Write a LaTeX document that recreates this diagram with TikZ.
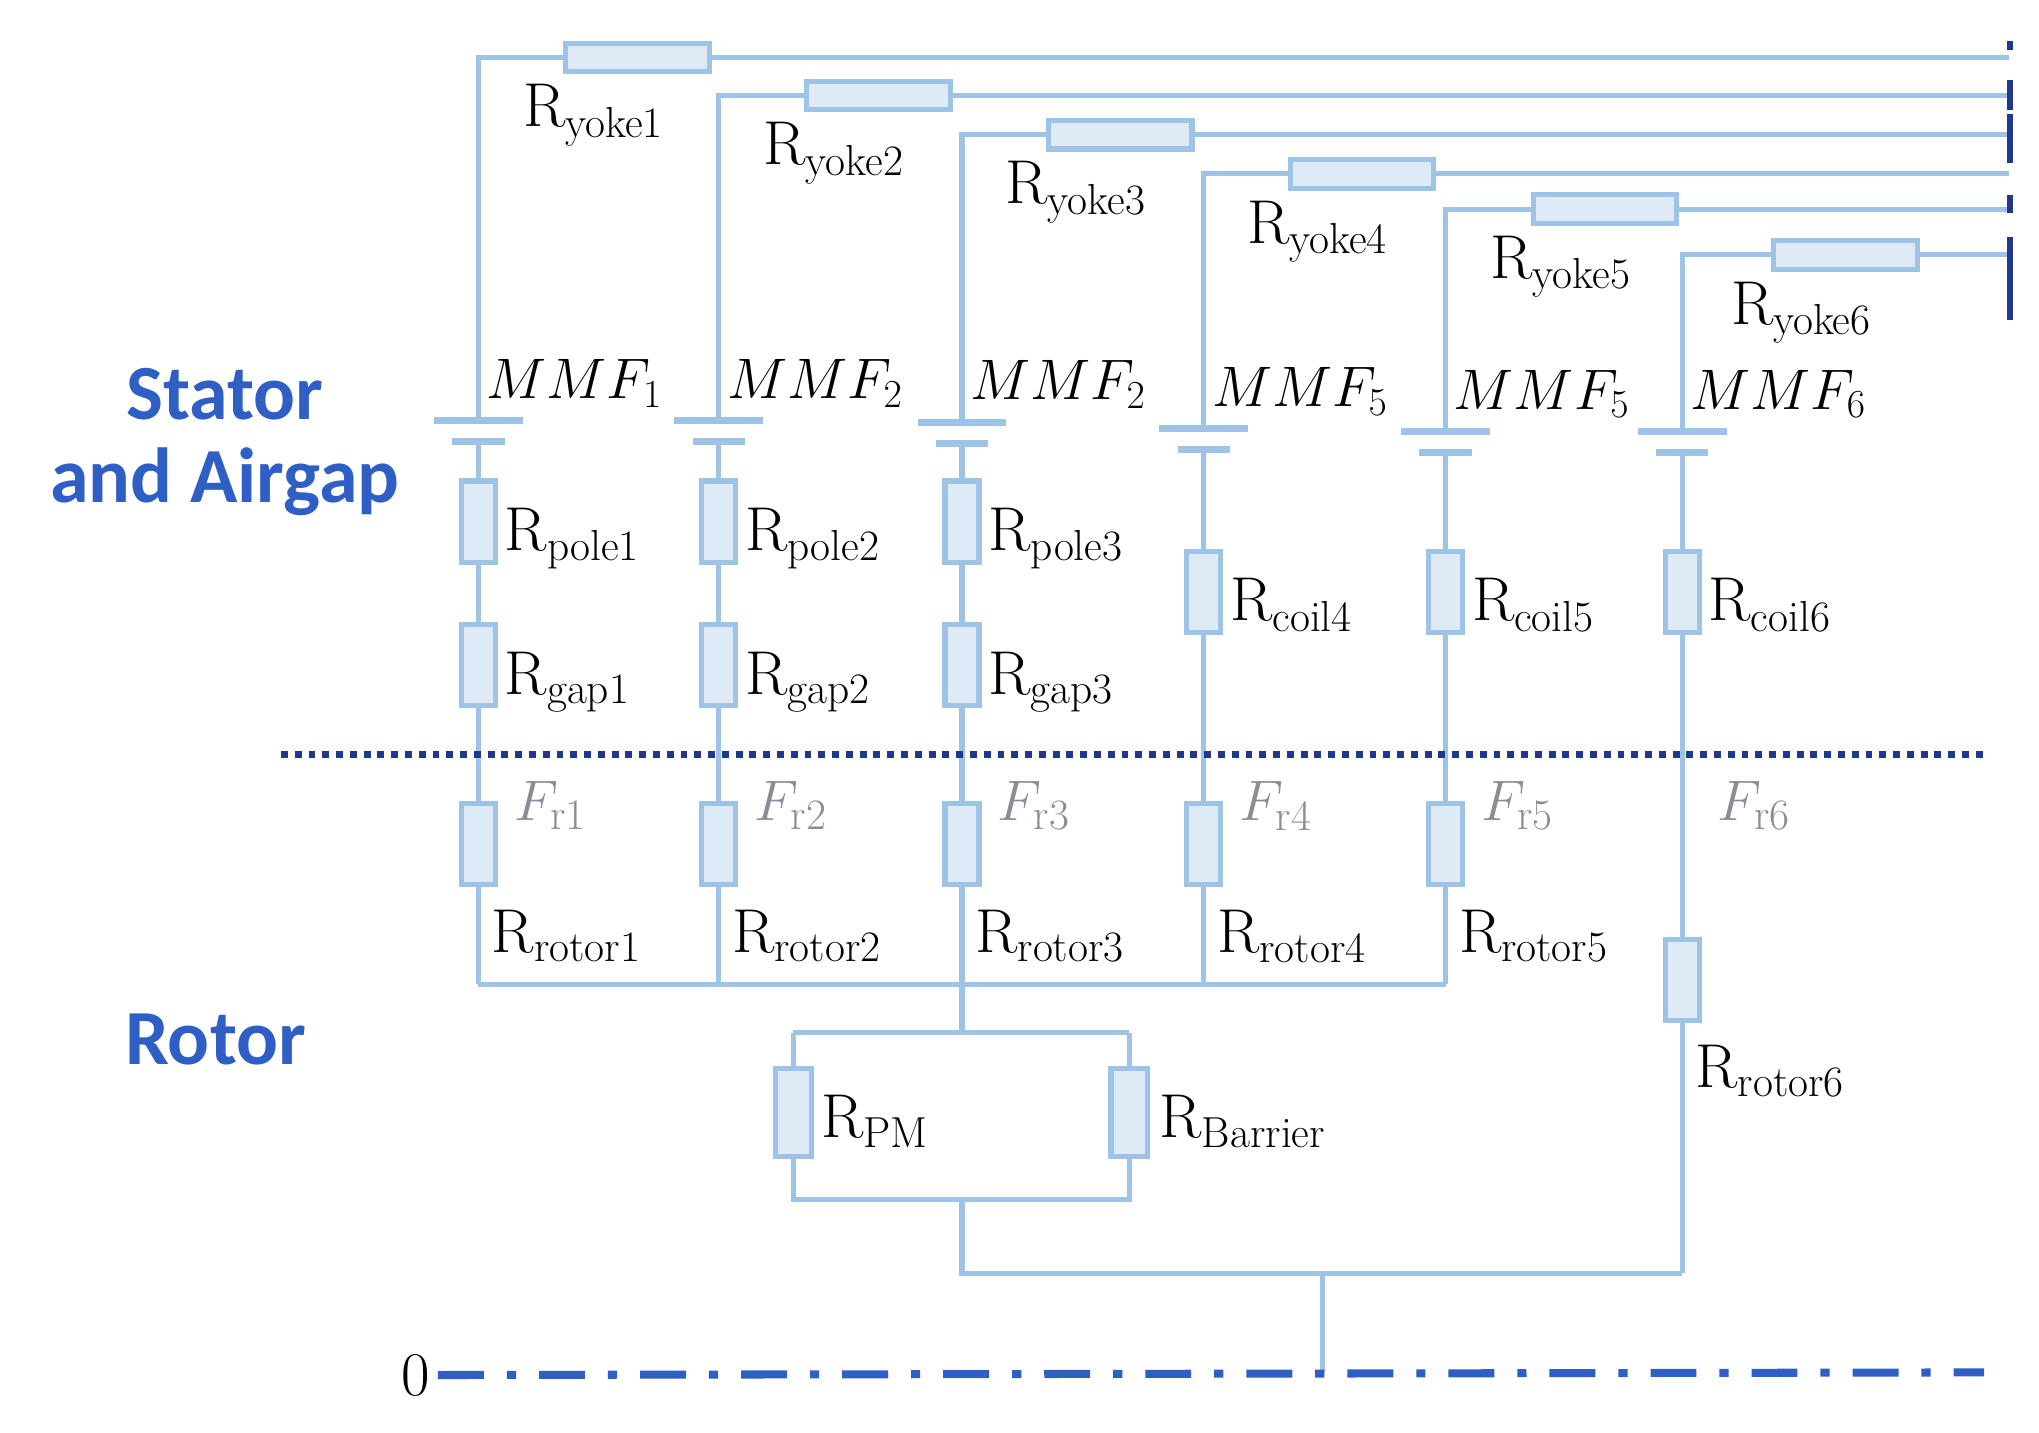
\documentclass[tikz,border=0pt]{standalone}
\usepackage{fontspec}
\newfontfamily\lblfont{Carlito}
\definecolor{wire}{RGB}{157,195,230}
\definecolor{resfill}{RGB}{222,235,247}
\definecolor{navy}{RGB}{31,56,140}
\definecolor{dashblue}{RGB}{47,95,196}
\definecolor{lblblue}{RGB}{47,95,196}
\definecolor{fgrey}{RGB}{140,140,150}
\newcommand{\Rs}[1]{R\textsubscript{#1}}
\begin{document}
\begin{tikzpicture}[x=0.02cm,y=-0.02cm,
  w/.style={draw=wire,line width=2.2pt},
  hres/.style={draw=wire,fill=resfill,line width=2.2pt,minimum width=2.2cm,minimum height=0.44cm,inner sep=0},
  vres/.style={draw=wire,fill=resfill,line width=2.2pt,minimum width=0.52cm,minimum height=1.24cm,inner sep=0},
  plate/.style={draw=wire,line width=3pt},
  lbl/.style={anchor=base west,inner sep=0,font=\fontsize{27}{30}\selectfont},
  big/.style={font=\lblfont\bfseries\fontsize{34}{40}\selectfont,text=lblblue,align=center}]
\useasboundingbox (0,0) rectangle (1560,1096);
% columns
\foreach \i/\x/\yy/\rc/\pl in {1/366/44/488/322,2/550/73/672/322,3/736/103/857/323,4/921/133/1042/328,5/1106/160/1228/330,6/1287/195/1412/330}{
  \coordinate (t\i) at (\x,\yy);
  \coordinate (e\i) at (1537,\yy);
  \coordinate (pl\i) at (\x,\pl);
  \coordinate (ps\i) at (\x,\pl+16);
  \node[hres] (y\i) at (\rc,\yy) {};
  \draw[w] (pl\i) -- (t\i) -- (y\i) -- (e\i);
  \draw[plate] (\x-34,\pl) -- (\x+34,\pl);
  \draw[plate] (\x-20,\pl+16) -- (\x+20,\pl+16);
  \node[lbl] at (\rc-88,\yy+53) {\Rs{yoke\i}};
  \node[lbl] at (\x+6,\pl-17) {$MMF_{\ifnum\i=3 2\else\ifnum\i=4 5\else\i\fi\fi}$};
}
% right end marks
\foreach \a/\b in {31/38,61/84,87/125,149/163,181/245}{
  \draw[navy,line width=2.5pt] (1538,\a) -- (1538,\b);
}
\foreach \i/\x in {1/366,2/550,3/736}{
  \node[vres] (p\i) at (\x,399) {};
  \node[vres] (g\i) at (\x,509) {};
  \node[vres] (r\i) at (\x,646) {};
  \coordinate (b\i) at (\x,753);
  \draw[w] (ps\i) -- (p\i) -- (g\i) -- (r\i) -- (b\i);
  \node[lbl] at (\x+20,421) {\Rs{pole\i}};
  \node[lbl] at (\x+20,531) {\Rs{gap\i}};
}
\foreach \i/\x in {4/921,5/1106}{
  \node[vres] (c\i) at (\x,453) {};
  \node[vres] (r\i) at (\x,646) {};
  \coordinate (b\i) at (\x,753);
  \draw[w] (ps\i) -- (c\i) -- (r\i) -- (b\i);
  \node[lbl] at (\x+20,475) {\Rs{coil\i}};
}
\node[vres] (c6) at (1287,453) {};
\node[vres] (r6) at (1287,750) {};
\coordinate (k6) at (1287,974);
\draw[w] (ps6) -- (c6) -- (r6) -- (k6);
\node[lbl] at (1307,475) {\Rs{coil6}};
\node[lbl] at (1297,832) {\Rs{rotor6}};
\foreach \i/\x in {1/366,2/550,3/736,4/921,5/1106}{
  \node[lbl] at (\x+10,729) {\Rs{rotor\i}};
}
\foreach \i/\x in {1/366,2/550,3/736,4/921,5/1106,6/1287}{
  \node[lbl,text=fgrey] at (\x+27,628) {$F_{\mathrm{r\i}}$};
}
\draw[w] (b1) -- (b5);
\coordinate (pt) at (736,790);
\coordinate (pbl) at (607,790);
\coordinate (pbr) at (864,790);
\coordinate (qbl) at (607,918);
\coordinate (qbr) at (864,918);
\coordinate (qb) at (736,918);
\coordinate (k3) at (736,974);
\coordinate (j) at (1012,974);
\coordinate (z) at (1012,1050);
\node[vres,minimum height=1.34cm,minimum width=0.56cm] (pm) at (607,851) {};
\node[vres,minimum height=1.34cm,minimum width=0.56cm] (ba) at (864,851) {};
\draw[w] (b3) -- (pt);
\draw[w] (pbl) -- (pbr);
\draw[w] (pbl) -- (pm) -- (qbl) -- (qbr) -- (ba) -- (pbr);
\draw[w] (qb) -- (k3) -- (k6);
\draw[w] (j) -- (z);
\node[lbl] at (628,870) {\Rs{PM}};
\node[lbl] at (887,870) {\Rs{Barrier}};
\draw[navy,line width=3pt,dash pattern=on 3pt off 3pt] (215,577) -- (1518,577);
\node[font=\fontsize{27}{30}\selectfont] (zero) at (318,1052) {0};
\draw[dashblue,line width=3.5pt,dash pattern=on 20pt off 10pt on 4pt off 10pt] (zero.east) -- (1518,1050);
\node[big] at (172,338) {Stator\\[-4pt]and Airgap};
\node[big] at (165,795) {Rotor};
\end{tikzpicture}
\end{document}
